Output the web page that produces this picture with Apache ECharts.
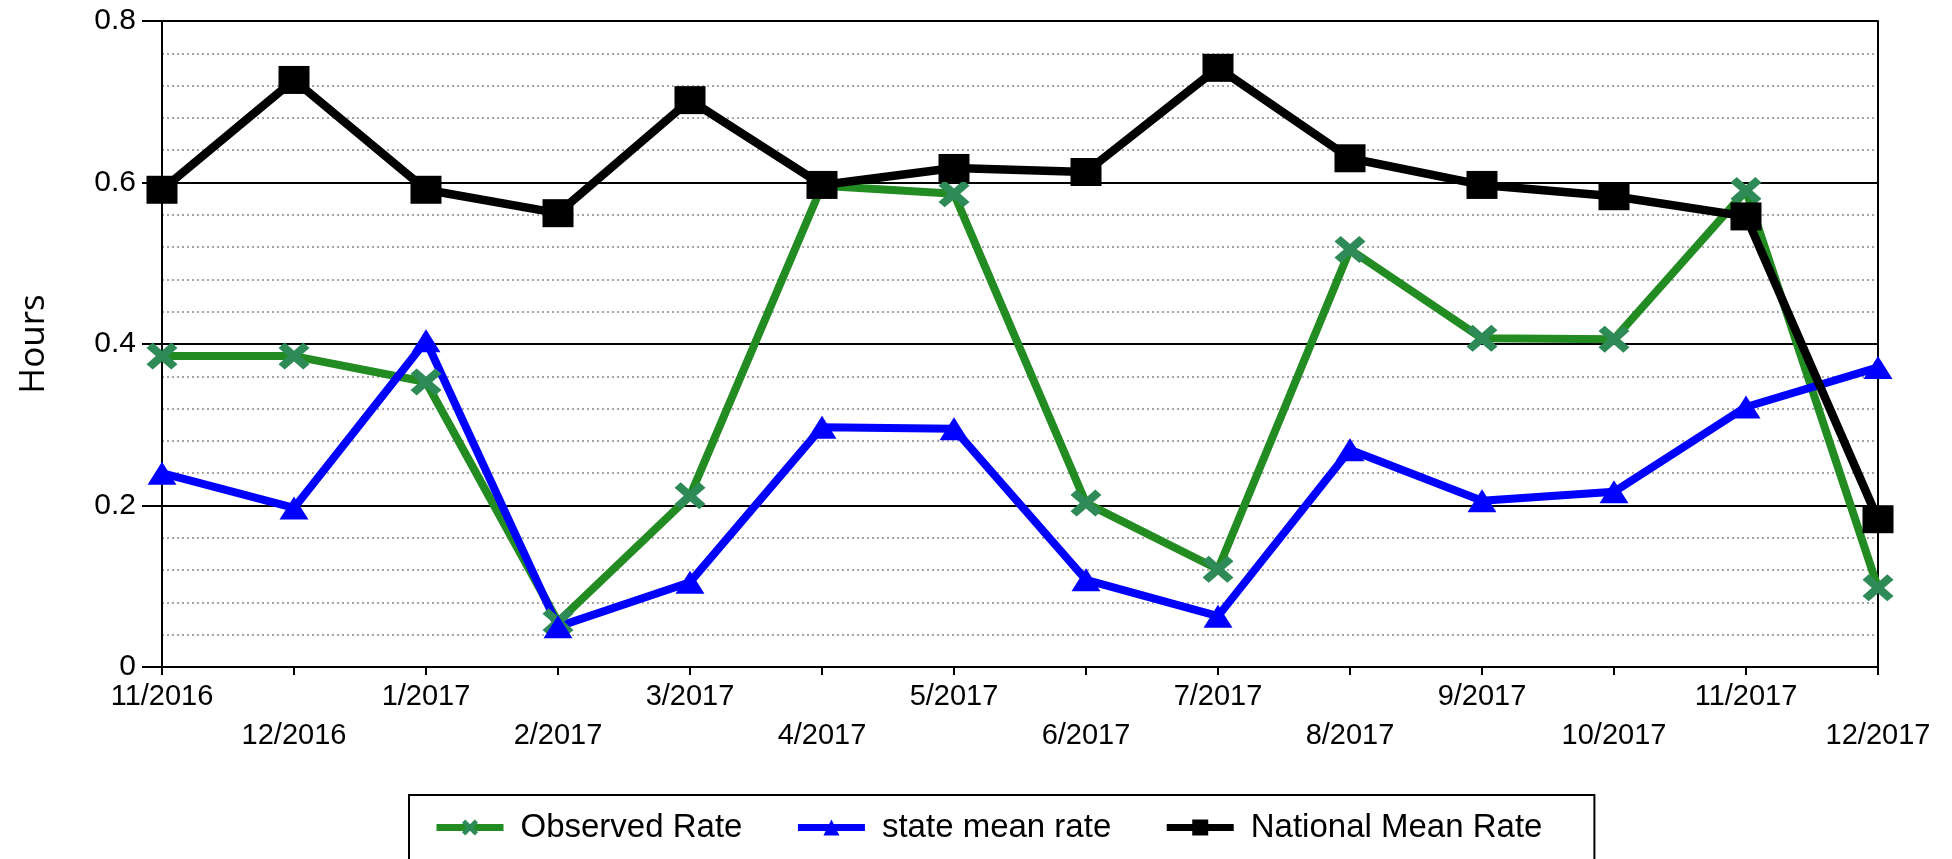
<!DOCTYPE html>
<html>
<head>
<meta charset="utf-8">
<script src="https://cdn.jsdelivr.net/npm/echarts@6/dist/echarts.min.js"></script>
<style>
html,body{margin:0;padding:0;background:#fff;}
#chart{width:1952px;height:859px;}
</style>
</head>
<body>
<div id="chart"></div>
<script>
const categories = ['11/2016','12/2016','1/2017','2/2017','3/2017','4/2017','5/2017','6/2017','7/2017','8/2017','9/2017','10/2017','11/2017','12/2017'];
const observedRate = [0.385,0.385,0.353,0.056,0.212,0.596,0.586,0.203,0.121,0.517,0.407,0.406,0.590,0.098];
const stateMeanRate = [0.240,0.197,0.404,0.050,0.105,0.297,0.295,0.108,0.063,0.269,0.206,0.217,0.322,0.371];
const nationalMeanRate = [0.591,0.727,0.591,0.562,0.702,0.597,0.618,0.613,0.742,0.630,0.597,0.583,0.558,0.183];
const yTicks = [0, 0.2, 0.4, 0.6, 0.8];

const xPath = 'path://M0,2 L2,0 L5,3 L8,0 L10,2 L7,5 L10,8 L8,10 L5,7 L2,10 L0,8 L3,5 Z';

const chart = echarts.init(document.getElementById('chart'));
chart.setOption({
  animation: false,
  backgroundColor: '#fff',
  grid: { left: 162, right: 74, top: 21, bottom: 192, containLabel: false },
  legend: {
    left: 409, top: 795,
    padding: [16, 52, 30, 24],
    borderColor: '#000', borderWidth: 2,
    itemWidth: 67, itemHeight: 20, itemGap: 52,
    lineStyle: { width: 7 },
    textStyle: { fontFamily: 'Liberation Sans', fontSize: 33, color: '#000', padding: [0, 0, 0, 12] },
    data: ['Observed Rate', 'state mean rate', 'National Mean Rate']
  },
  xAxis: {
    type: 'category',
    data: categories,
    boundaryGap: false,
    axisLine: { lineStyle: { color: '#000', width: 2 } },
    axisTick: { show: true, length: 8, lineStyle: { color: '#000', width: 2 } },
    axisLabel: {
      interval: 0, margin: 10,
      fontFamily: 'Liberation Sans', fontSize: 29, color: '#000', lineHeight: 39,
      formatter: function (v, i) { return i % 2 ? '\n' + v : v; }
    },
    splitLine: { show: false }
  },
  yAxis: [{
    type: 'value',
    min: yTicks[0], max: yTicks[yTicks.length - 1], interval: 0.2,
    name: 'Hours', nameLocation: 'middle', nameGap: 110, nameRotate: 90,
    nameTextStyle: { fontFamily: 'Open Sans', fontSize: 35, color: '#000' },
    axisLine: { show: true, lineStyle: { color: '#000', width: 2 } },
    axisTick: { show: true, length: 20, lineStyle: { color: '#000', width: 2 } },
    axisLabel: {
      margin: 26, fontFamily: 'Liberation Sans', fontSize: 30, color: '#000',
      formatter: function (v) { return v === 0 ? '0' : v.toFixed(1); }
    },
    splitLine: { show: true, lineStyle: { color: '#000', width: 2 } },
    minorTick: { show: false, splitNumber: 5 },
    minorSplitLine: { show: true, lineStyle: { color: '#888', width: 1.5, type: [2, 3] } }
  }, {
    type: 'value', position: 'right',
    min: yTicks[0], max: yTicks[yTicks.length - 1], interval: 0.2,
    axisLine: { show: true, lineStyle: { color: '#000', width: 2 } },
    axisTick: { show: false }, axisLabel: { show: false }, splitLine: { show: false }
  }],
  series: [{
    name: 'Observed Rate', type: 'line', data: observedRate,
    symbol: xPath, symbolSize: [31, 27],
    lineStyle: { color: '#228B22', width: 8 },
    itemStyle: { color: '#2E8B57' }
  }, {
    name: 'state mean rate', type: 'line', data: stateMeanRate,
    symbol: 'triangle', symbolSize: [29, 23],
    lineStyle: { color: '#0000FF', width: 8 },
    itemStyle: { color: '#0000FF' }
  }, {
    name: 'National Mean Rate', type: 'line', data: nationalMeanRate,
    symbol: 'rect', symbolSize: [31, 28],
    lineStyle: { color: '#000', width: 8.5 },
    itemStyle: { color: '#000' }
  }]
});
</script>
</body>
</html>
